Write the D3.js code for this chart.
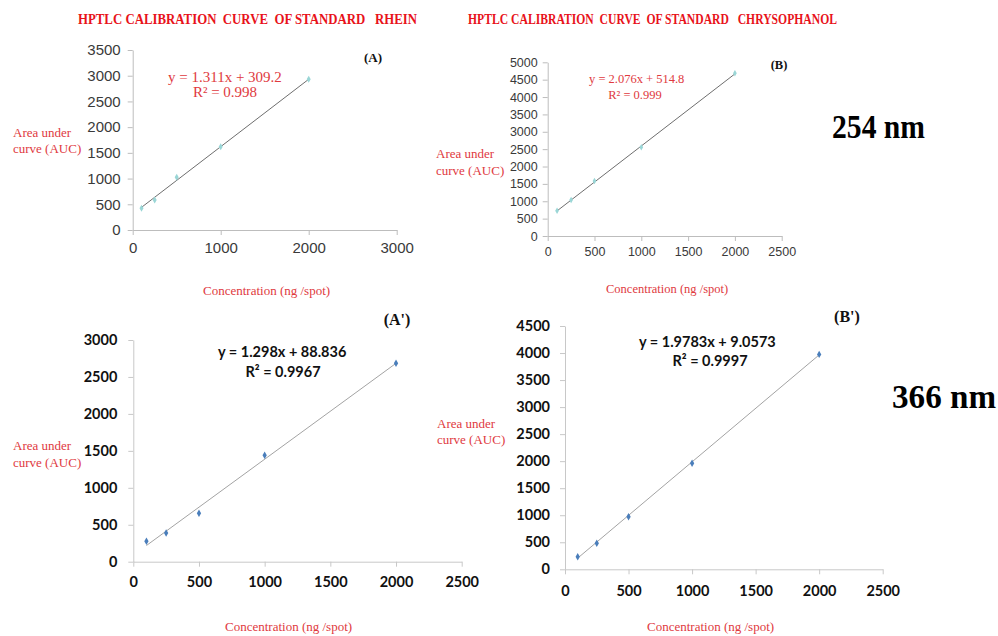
<!DOCTYPE html>
<html>
<head>
<meta charset="utf-8">
<script src="https://cdn.jsdelivr.net/npm/d3@7"></script>
<style>
  html, body { margin: 0; padding: 0; background: #fff; }
  svg { display: block; }
  text { white-space: pre; }
</style>
</head>
<body>
<svg id="chart" width="998" height="636"></svg>
<script>
// HPTLC calibration data: spotted amount (ng/spot) vs. peak area (AUC)
const concentrations = [100, 250, 500, 1000, 2000];

const rheinAuc254 = [422, 584, 1025, 1620, 2932];
const chrysophanolAuc254 = [728, 1036, 1583, 2553, 4683];
const rheinAuc366 = [276, 388, 655, 1440, 2685];
const chrysophanolAuc366 = [233, 481, 972, 1960, 3975];

// Linear regression results printed on each panel
const panelIds = ["(A)", "(B)", "(A')", "(B')"];
const slopes = [1.311, 2.076, 1.298, 1.9783];
const intercepts = [309.2, 514.8, 88.836, 9.0573];
const equationLabels = ["y = 1.311x + 309.2", "y = 2.076x + 514.8", "y = 1.298x + 88.836", "y = 1.9783x + 9.0573"];
const r2Labels = ["R² = 0.998", "R² = 0.999", "R² = 0.9967", "R² = 0.9997"];

// Axis ticks
const xTicksA = [0, 1000, 2000, 3000];
const yTicksA = [0, 500, 1000, 1500, 2000, 2500, 3000, 3500];
const xTicksB = [0, 500, 1000, 1500, 2000, 2500];
const yTicksB = [0, 500, 1000, 1500, 2000, 2500, 3000, 3500, 4000, 4500, 5000];
const xTicksA2 = [0, 500, 1000, 1500, 2000, 2500];
const yTicksA2 = [0, 500, 1000, 1500, 2000, 2500, 3000];
const xTicksB2 = [0, 500, 1000, 1500, 2000, 2500];
const yTicksB2 = [0, 500, 1000, 1500, 2000, 2500, 3000, 3500, 4000, 4500];

// Text
const titles = ["HPTLC CALIBRATION  CURVE  OF STANDARD   RHEIN", "HPTLC CALIBRATION  CURVE  OF STANDARD   CHRYSOPHANOL"];
const wavelengths = ["254 nm", "366 nm"];
const yLabelLines = ["Area under", "curve (AUC)"];
const xLabel = "Concentration (ng /spot)";

const svg = d3.select("#chart");
const RED_TITLE = "#e8121a";
const RED_TEXT = "#e0393e";
const SERIF = "'Liberation Serif', 'Times New Roman', serif";
const ARIAL = "'Liberation Sans', Arial, sans-serif";
const BOLD_SANS = "Lato, 'Open Sans', sans-serif";
const plain = d3.format("d");

const panels = [
  {
    idx: 0, auc: rheinAuc254, xTicks: xTicksA, yTicks: yTicksA,
    xRange: [132.7, 396.7], yRange: [230, 50],
    tickFont: ARIAL, tickSize: 15, tickWeight: 400, tickColor: "#3a3a3a", yPad: 7, xPad: 7,
    axisColor: "#bdbdbd", lineColor: "#6e6e6e",
    marker: "#9ad6d6", markerSize: 14,
    eqFont: SERIF, eqSize: 15, eqWeight: 400, eqColor: RED_TEXT,
    eqX: 168, eqY: 82, r2X: 225, r2Y: 97,
    id: { x: 373, y: 62, size: 13 },
    yLab: { x: 13, y: 137, dy: 16, size: 13 },
    xLab: { x: 203, y: 295, size: 13 }
  },
  {
    idx: 1, auc: chrysophanolAuc254, xTicks: xTicksB, yTicks: yTicksB,
    xRange: [547.7, 781.7], yRange: [236, 62.3],
    tickFont: ARIAL, tickSize: 12.5, tickWeight: 400, tickColor: "#3a3a3a", yPad: 5, xPad: 6,
    axisColor: "#bdbdbd", lineColor: "#6e6e6e",
    marker: "#9ad6d6", markerSize: 12,
    eqFont: SERIF, eqSize: 12.5, eqWeight: 400, eqColor: RED_TEXT,
    eqX: 589, eqY: 83, r2X: 635, r2Y: 99,
    id: { x: 779, y: 69, size: 12.5 },
    yLab: { x: 436, y: 158, dy: 17, size: 13 },
    xLab: { x: 606, y: 293, size: 12.5 }
  },
  {
    idx: 2, auc: rheinAuc366, xTicks: xTicksA2, yTicks: yTicksA2,
    xRange: [133.3, 461.7], yRange: [561.7, 340],
    tickFont: BOLD_SANS, tickSize: 14.5, tickWeight: 700, tickColor: "#111", yPad: 11, xPad: 10,
    axisColor: "#c8c8c8", lineColor: "#a3a3a3",
    marker: "#4a7ebb", markerSize: 16,
    eqFont: BOLD_SANS, eqSize: 14.5, eqWeight: 700, eqColor: "#111",
    eqX: 218, eqY: 357, r2X: 283, r2Y: 377,
    id: { x: 397, y: 325, size: 16 },
    yLab: { x: 13, y: 450, dy: 17, size: 13 },
    xLab: { x: 225, y: 631, size: 13 }
  },
  {
    idx: 3, auc: chrysophanolAuc366, xTicks: xTicksB2, yTicks: yTicksB2,
    xRange: [565, 882.7], yRange: [569.3, 326],
    tickFont: BOLD_SANS, tickSize: 14.5, tickWeight: 700, tickColor: "#111", yPad: 10, xPad: 11,
    axisColor: "#c8c8c8", lineColor: "#a3a3a3",
    marker: "#4a7ebb", markerSize: 16,
    eqFont: BOLD_SANS, eqSize: 14.5, eqWeight: 700, eqColor: "#111",
    eqX: 639, eqY: 347, r2X: 710, r2Y: 366,
    id: { x: 847, y: 322, size: 16 },
    yLab: { x: 437, y: 428, dy: 16, size: 13 },
    xLab: { x: 647, y: 631, size: 13 }
  }
];

panels.forEach(p => {
  const g = svg.append("g");
  const x = d3.scaleLinear().domain([0, d3.max(p.xTicks)]).range(p.xRange);
  const y = d3.scaleLinear().domain([0, d3.max(p.yTicks)]).range(p.yRange);

  // Axes
  const yAxis = d3.axisLeft(y).tickValues(p.yTicks).tickFormat(plain).tickSize(5).tickSizeOuter(0).tickPadding(p.yPad);
  const xAxis = d3.axisBottom(x).tickValues(p.xTicks).tickFormat(plain).tickSize(5).tickSizeOuter(0).tickPadding(p.xPad);

  [[yAxis, `translate(${p.xRange[0]},0)`], [xAxis, `translate(0,${p.yRange[0]})`]].forEach(([ax, tr]) => {
    const a = g.append("g").attr("transform", tr).call(ax);
    a.select(".domain").attr("stroke", p.axisColor).attr("stroke-width", 1);
    a.selectAll(".tick line").attr("stroke", p.axisColor);
    a.selectAll(".tick text")
      .attr("fill", p.tickColor)
      .style("font-family", p.tickFont)
      .style("font-size", p.tickSize + "px")
      .style("font-weight", p.tickWeight);
  });

  // Linear trendline over the measured range
  const xs = d3.extent(concentrations);
  const fit = c => slopes[p.idx] * c + intercepts[p.idx];
  g.append("line")
    .attr("x1", x(xs[0])).attr("y1", y(fit(xs[0])))
    .attr("x2", x(xs[1])).attr("y2", y(fit(xs[1])))
    .attr("stroke", p.lineColor).attr("stroke-width", 1);

  // Calibration points
  const sym = d3.symbol().type(d3.symbolDiamond).size(p.markerSize);
  g.selectAll("path.pt")
    .data(concentrations.map((c, i) => [c, p.auc[i]]))
    .join("path")
    .attr("class", "pt")
    .attr("d", sym)
    .attr("transform", d => `translate(${x(d[0])},${y(d[1])})`)
    .attr("fill", p.marker);

  // Regression equation
  const eq = g.append("g")
    .style("font-family", p.eqFont)
    .style("font-size", p.eqSize + "px")
    .style("font-weight", p.eqWeight)
    .attr("fill", p.eqColor);
  eq.append("text").attr("x", p.eqX).attr("y", p.eqY).text(equationLabels[p.idx]);
  eq.append("text").attr("x", p.r2X).attr("y", p.r2Y).attr("text-anchor", "middle").text(r2Labels[p.idx]);

  // Panel id
  g.append("text")
    .attr("x", p.id.x).attr("y", p.id.y)
    .attr("text-anchor", "middle")
    .style("font-family", SERIF).style("font-weight", 700)
    .style("font-size", p.id.size + "px")
    .attr("fill", "#111")
    .text(panelIds[p.idx]);

  // Axis titles
  const yl = g.append("text")
    .style("font-family", SERIF).style("font-size", p.yLab.size + "px")
    .attr("fill", RED_TEXT);
  yLabelLines.forEach((line, i) => {
    yl.append("tspan").attr("x", p.yLab.x).attr("y", p.yLab.y + i * p.yLab.dy).text(line);
  });
  g.append("text")
    .attr("x", p.xLab.x).attr("y", p.xLab.y)
    .style("font-family", SERIF).style("font-size", p.xLab.size + "px")
    .attr("fill", RED_TEXT)
    .text(xLabel);
});

// Panel titles
const titlePos = [{ x: 78, w: 339 }, { x: 468, w: 369 }];
titles.forEach((t, i) => {
  svg.append("text")
    .attr("x", titlePos[i].x).attr("y", 24)
    .attr("textLength", titlePos[i].w).attr("lengthAdjust", "spacingAndGlyphs")
    .style("font-family", SERIF).style("font-weight", 700).style("font-size", "14px")
    .attr("fill", RED_TITLE)
    .text(t);
});

// Wavelength labels for each row
const wlPos = [{ x: 832, y: 138, w: 93 }, { x: 892, y: 408, w: 104 }];
wavelengths.forEach((t, i) => {
  svg.append("text")
    .attr("x", wlPos[i].x).attr("y", wlPos[i].y)
    .attr("textLength", wlPos[i].w).attr("lengthAdjust", "spacingAndGlyphs")
    .style("font-family", SERIF).style("font-weight", 700).style("font-size", "33px")
    .attr("fill", "#000")
    .text(t);
});
</script>
</body>
</html>
